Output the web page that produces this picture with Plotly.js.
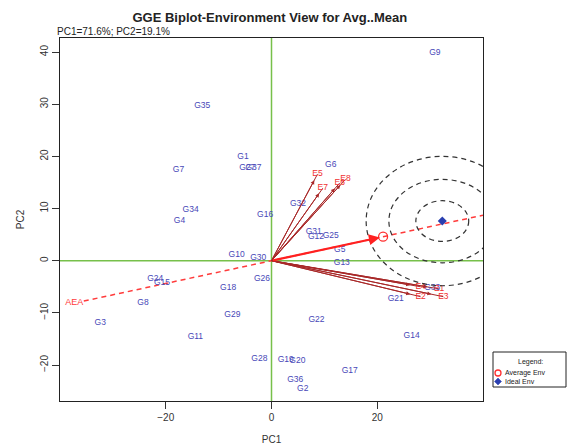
<!DOCTYPE html>
<html>
<head>
<meta charset="utf-8">
<script src="https://cdn.plot.ly/plotly-3.0.1.min.js"></script>
<style>html,body{margin:0;padding:0;background:#fff;}#chart{width:568px;height:445px;}</style>
</head>
<body>
<div id="chart"></div>
<script>
// Genotype scores (PC1, PC2)
const genoLabels = ["G1","G2","G3","G4","G5","G6","G7","G8","G9","G10","G11","G12","G13","G14","G15","G16","G17","G18","G19","G20","G21","G22","G24","G25","G26","G27","G28","G29","G30","G31","G32","G33","G34","G35","G36","G37"];
const genoPC1 = [-5.4,5.9,-32.4,-17.4,12.9,11.2,-17.6,-24.3,30.9,-6.6,-14.4,8.4,13.3,26.5,-20.7,-1.2,14.8,-8.2,2.7,4.9,23.5,8.5,-22.0,11.2,-1.8,-4.6,-2.3,-7.4,-2.5,8.0,5.0,30.4,-15.3,-13.1,4.5,-3.4];
const genoPC2 = [19.9,-24.5,-11.9,7.7,2.0,18.3,17.5,-8.0,39.8,1.1,-14.6,4.6,-0.4,-14.4,-4.3,8.8,-21.1,-5.2,-19.0,-19.2,-7.4,-11.4,-3.5,4.7,-3.5,17.8,-18.9,-10.4,0.6,5.6,10.9,-5.3,9.8,29.6,-22.9,17.8];

// Environment scores
const envLabels = ["E1","E2","E3","E4","E5","E6","E7","E8"];
const envPC1 = [31.7,28.2,32.5,28.2,8.7,12.9,9.7,14.0];
const envPC2 = [-5.4,-6.9,-6.9,-5.0,16.6,14.9,13.9,15.6];

// Average and ideal environment
const avgEnv = [21.1, 4.6];
const idealEnv = [32.3, 7.6];
// concentric ring radii around ideal env (x radius, y radius)
const ringRx = [5.0, 10.1, 14.4];
const ringRy = [3.9, 8.0, 12.4];

// legend entries
const legendNames = ["Average Env", "Ideal Env"];

const xRange = [-40, 40];
const yRange = [-26.9, 42.7];
const aeaStartX = -35.5;

const FONT = 'Liberation Sans, Arial, sans-serif';
const slope = avgEnv[1] / avgEnv[0];

const traces = [];
traces.push({
  x: [aeaStartX, xRange[1]],
  y: [aeaStartX * slope, xRange[1] * slope],
  mode: 'lines', line: {color: '#ff3b3b', width: 1.5, dash: '5px,4px'},
  showlegend: false, hoverinfo: 'skip'
});
envLabels.forEach((e, i) => {
  traces.push({
    x: [0, envPC1[i]], y: [0, envPC2[i]], mode: 'lines',
    line: {color: '#a82828', width: 1}, showlegend: false, hoverinfo: 'skip'
  });
});
traces.push({
  x: genoPC1, y: genoPC2, text: genoLabels, mode: 'text',
  textfont: {family: FONT, size: 8.5, color: '#4848b8'},
  showlegend: false, hoverinfo: 'text'
});
traces.push({
  x: envPC1, y: envPC2, text: envLabels, mode: 'text',
  textfont: {family: FONT, size: 8.5, color: '#f03030'},
  showlegend: false
});
traces.push({
  x: [aeaStartX - 1.8], y: [(aeaStartX - 1.8) * slope], text: ['AEA'], mode: 'text',
  textfont: {family: FONT, size: 9, color: '#ff3b3b'},
  showlegend: false
});
traces.push({
  x: [avgEnv[0]], y: [avgEnv[1]], mode: 'markers', name: legendNames[0], showlegend: false,
  marker: {symbol: 'circle-open', size: 9, color: '#ff3030', line: {width: 1.3, color: '#ff3030'}}
});
traces.push({
  x: [idealEnv[0]], y: [idealEnv[1]], mode: 'markers', name: legendNames[1], showlegend: false,
  marker: {symbol: 'diamond', size: 7, color: '#2a3fb0'}
});

const shapes = [
  {type: 'line', xref: 'x', yref: 'y', x0: xRange[0], x1: xRange[1], y0: 0, y1: 0, line: {color: '#77c04a', width: 1.5}, layer: 'below'},
  {type: 'line', xref: 'x', yref: 'y', x0: 0, x1: 0, y0: yRange[0], y1: yRange[1], line: {color: '#77c04a', width: 1.5}, layer: 'below'}
];
ringRx.forEach((rx, i) => {
  shapes.push({type: 'circle', xref: 'x', yref: 'y',
    x0: idealEnv[0] - rx, x1: idealEnv[0] + rx,
    y0: idealEnv[1] - ringRy[i], y1: idealEnv[1] + ringRy[i],
    line: {color: '#333', width: 1.2, dash: '5px,4px'}});
});

// Manual legend box (paper coords)
const W = 568, H = 445, mL = 60, mR = 85, mT = 38, mB = 44;
const pw = W - mL - mR, ph = H - mT - mB;
const px = v => (v - mL) / pw;
const py = v => (H - mB - v) / ph;
shapes.push({type: 'rect', xref: 'paper', yref: 'paper', x0: px(493), x1: px(566), y0: py(387), y1: py(352),
  line: {color: '#222', width: 1}, fillcolor: '#fff'});
shapes.push({type: 'circle', xref: 'paper', yref: 'paper', xsizemode: 'pixel', ysizemode: 'pixel',
  xanchor: px(498), yanchor: py(373), x0: -3, x1: 3, y0: -3, y1: 3, line: {color: '#ff3030', width: 1.3}});
shapes.push({type: 'path', xref: 'paper', yref: 'paper', xsizemode: 'pixel', ysizemode: 'pixel',
  xanchor: px(498), yanchor: py(381.5), path: 'M0,3.5 L3.5,0 L0,-3.5 L-3.5,0 Z',
  fillcolor: '#2a3fb0', line: {color: '#2a3fb0', width: 0.5}});

const annotations = [];
envLabels.forEach((e, i) => {
  annotations.push({x: envPC1[i] * 0.93, y: envPC2[i] * 0.93, ax: 0, ay: 0, axref: 'x', ayref: 'y', xref: 'x', yref: 'y',
    showarrow: true, arrowhead: 2, arrowsize: 0.8, arrowwidth: 1, arrowcolor: '#a82828', text: ''});
});
annotations.push({x: avgEnv[0] - 0.6, y: avgEnv[1] - 0.13, ax: 0, ay: 0, axref: 'x', ayref: 'y', xref: 'x', yref: 'y',
  showarrow: true, arrowhead: 2, arrowsize: 1, arrowwidth: 2.2, arrowcolor: '#ff2020', text: ''});
annotations.push({xref: 'paper', yref: 'paper', x: -0.012, y: 1.0, xanchor: 'left', yanchor: 'bottom', showarrow: false,
  text: 'PC1=71.6%; PC2=19.1%', font: {family: FONT, size: 10, color: '#222'}, yshift: -1});
annotations.push({xref: 'paper', yref: 'paper', x: px(530), y: py(362), xanchor: 'center', yanchor: 'middle', showarrow: false,
  text: 'Legend:', font: {family: FONT, size: 7, color: '#222'}});
annotations.push({xref: 'paper', yref: 'paper', x: px(503), y: py(373), xanchor: 'left', yanchor: 'middle', showarrow: false,
  text: legendNames[0], font: {family: FONT, size: 7, color: '#222'}});
annotations.push({xref: 'paper', yref: 'paper', x: px(503), y: py(381.5), xanchor: 'left', yanchor: 'middle', showarrow: false,
  text: legendNames[1], font: {family: FONT, size: 7, color: '#222'}});

const layout = {
  width: W, height: H,
  margin: {l: mL, r: mR, t: mT, b: mB, autoexpand: false},
  paper_bgcolor: '#fff', plot_bgcolor: '#fff',
  font: {family: FONT, color: '#333'},
  title: {text: 'GGE Biplot-Environment View for Avg..Mean', x: 0.475, xanchor: 'center', y: 1 - 17 / H, yanchor: 'middle',
    font: {family: FONT, size: 13, color: '#222', weight: 'bold'}},
  xaxis: {range: xRange, tickvals: [-20, 0, 20], ticks: 'outside', ticklen: 7, tickcolor: '#333',
    showgrid: false, zeroline: false, showline: true, mirror: true, linecolor: '#222', linewidth: 1,
    tickfont: {size: 10, color: '#333'},
    title: {text: 'PC1', font: {size: 10, color: '#333'}, standoff: 18}},
  yaxis: {range: yRange, tickvals: [-20, -10, 0, 10, 20, 30, 40], ticks: 'outside', ticklen: 7, tickcolor: '#333',
    tickangle: -90, showgrid: false, zeroline: false, showline: true, mirror: true, linecolor: '#222', linewidth: 1,
    tickfont: {size: 10, color: '#333'},
    title: {text: 'PC2', font: {size: 10, color: '#333'}, standoff: 12}},
  shapes: shapes,
  annotations: annotations,
  showlegend: false
};

Plotly.newPlot('chart', traces, layout, {displayModeBar: false, staticPlot: true});
</script>
</body>
</html>
